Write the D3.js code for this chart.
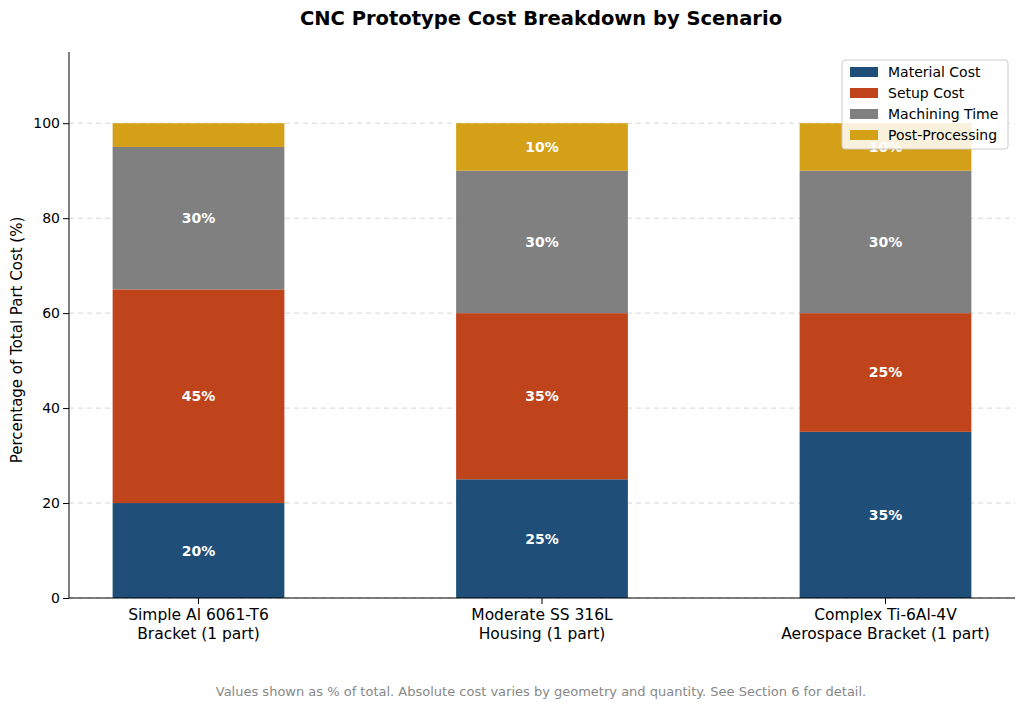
<!DOCTYPE html>
<html><head><meta charset="utf-8">
<script src="https://cdn.jsdelivr.net/npm/d3@7"></script>
<style>body{margin:0;background:#fff}text{font-family:"DejaVu Sans",sans-serif}</style>
</head><body><svg id="c" width="1024" height="710"></svg>
<script>
const categories=["Simple Al 6061-T6\nBracket (1 part)","Moderate SS 316L\nHousing (1 part)","Complex Ti-6Al-4V\nAerospace Bracket (1 part)"];
const seriesNames=["Material Cost","Setup Cost","Machining Time","Post-Processing"];
const colors=["#1f4e79","#c0441b","#808080","#d4a017"];
const materialCost=[20,25,35];
const setupCost=[45,35,25];
const machiningTime=[30,30,30];
const postProcessing=[5,10,10];
const yTicks=[0,20,40,60,80,100];
const series=[materialCost,setupCost,machiningTime,postProcessing];

const svg=d3.select("#c");
const L=69,R=1015,T=52,B=598;
const x=d3.scaleBand().domain(categories).range([L,R]).paddingInner(0.5).paddingOuter(0.127);
const y=d3.scaleLinear().domain([0,115]).range([B,T]);

svg.append("text").attr("x",541).attr("y",25).attr("text-anchor","middle").attr("font-size",19.5).attr("font-weight","bold").text("CNC Prototype Cost Breakdown by Scenario");

svg.append("g").selectAll("line").data(yTicks).join("line")
 .attr("x1",L).attr("x2",R).attr("y1",d=>y(d)).attr("y2",d=>y(d))
 .attr("stroke","#ccc").attr("stroke-dasharray","5,4").attr("stroke-width",0.8);

const rows=categories.map((c,i)=>{const o={cat:c};seriesNames.forEach((s,j)=>o[s]=series[j][i]);return o;});
const stack=d3.stack().keys(seriesNames)(rows);
stack.forEach((layer,j)=>{
 const g=svg.append("g");
 g.selectAll("rect").data(layer).join("rect")
  .attr("x",d=>x(d.data.cat)).attr("width",x.bandwidth())
  .attr("y",d=>y(d[1])).attr("height",d=>y(d[0])-y(d[1])).attr("fill",colors[j]);
 g.selectAll("text").data(layer.filter(d=>d[1]-d[0]>=8)).join("text")
  .attr("x",d=>x(d.data.cat)+x.bandwidth()/2).attr("y",d=>y((d[0]+d[1])/2)+5)
  .attr("text-anchor","middle").attr("fill","#fff").attr("font-weight","bold").attr("font-size",14)
  .text(d=>(d[1]-d[0])+"%");
});

const ya=svg.append("g").attr("transform",`translate(${L},0)`).call(d3.axisLeft(y).tickValues(yTicks).tickSizeOuter(0));
const xa=svg.append("g").attr("transform",`translate(0,${B})`).call(d3.axisBottom(x).tickSizeOuter(0));
[ya,xa].forEach(a=>{a.selectAll("text").attr("fill","#000");a.select(".domain").attr("stroke","#000");});
ya.select(".domain").attr("d",`M0,${B}V${T}`);
xa.select(".domain").attr("d",`M${L},0H${R}`);
xa.selectAll(".tick text").each(function(d){
 const t=d3.select(this);t.text(null);
 d.split("\n").forEach((s,i)=>t.append("tspan").attr("x",0).attr("dy",i?"1.2em":"0.85em").text(s));
 t.attr("font-size",15.5);
});
ya.selectAll(".tick text").attr("font-size",14);
svg.append("text").attr("transform",`translate(22,${(T+B)/2+15}) rotate(-90)`).attr("text-anchor","middle").attr("font-size",15).text("Percentage of Total Part Cost (%)");

const lg=svg.append("g").attr("transform","translate(842,60)");
lg.append("rect").attr("width",166).attr("height",89).attr("rx",3).attr("fill","#fff").attr("fill-opacity",0.85).attr("stroke","#ccc");
seriesNames.forEach((s,i)=>{
 lg.append("rect").attr("x",8).attr("y",7+i*21).attr("width",28).attr("height",10).attr("fill",colors[i]);
 lg.append("text").attr("x",46).attr("y",17+i*21).attr("font-size",14).text(s);
});

svg.append("text").attr("x",541).attr("y",696).attr("text-anchor","middle").attr("font-size",13).attr("fill","#888")
 .text("Values shown as % of total. Absolute cost varies by geometry and quantity. See Section 6 for detail.");
</script></body></html>
